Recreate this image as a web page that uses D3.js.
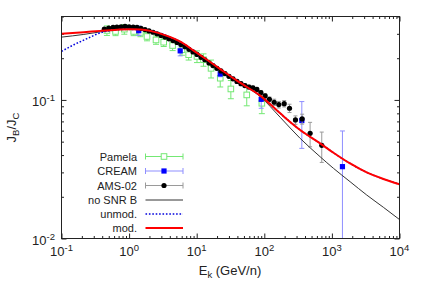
<!DOCTYPE html>
<html>
<head>
<meta charset="utf-8">
<script src="https://cdn.jsdelivr.net/npm/d3@7"></script>
<style>
  body { margin: 0; background: #fff; }
  text { font-family: "Liberation Sans", Arial, sans-serif; fill: #222; }
</style>
</head>
<body>
<svg id="chart" width="425" height="298"></svg>
<script>
// ---- data ----
var pamelaE   = [0.47, 0.63, 0.85, 1.17, 1.47, 1.84, 2.5, 3.25, 4.4, 6.05, 7.6, 10.1, 12.6, 16.3, 22.3, 32, 55, 92];
var pamelaBC  = [0.317, 0.312, 0.324, 0.312, 0.307, 0.287, 0.271, 0.261, 0.247, 0.230, 0.212, 0.206, 0.195, 0.169, 0.1435, 0.120, 0.1087, 0.0946];
var pamelaErr = [0.025, 0.021, 0.026, 0.021, 0.021, 0.020, 0.019, 0.018, 0.020, 0.020, 0.018, 0.020, 0.020, 0.025, 0.0195, 0.018, 0.018, 0.015];

var creamE  = [1.39, 5.7, 22.3, 90, 359, 1432];
var creamBC = [0.316, 0.226, 0.154, 0.101, 0.071, 0.033];
var creamLo = [0.292, 0.208, 0.147, 0.087, 0.0447, 0.005];
var creamHi = [0.342, 0.246, 0.161, 0.110, 0.0973, 0.0597];

var amsE = [0.43, 0.50, 0.58, 0.66, 0.76, 0.87, 1.00, 1.15, 1.31, 1.50, 1.72, 1.97, 2.26, 2.59, 2.97, 3.40, 3.89,
            4.46, 5.11, 5.86, 6.71, 7.69, 8.81, 10.1, 11.6, 13.2, 15.2, 17.4, 19.9, 22.8, 26.2, 30.0, 34.4, 39.4,
            45.1, 51.6, 59.2, 67.8, 77.6, 89, 103, 119, 140, 164, 197, 236, 289, 363, 476, 708];
var amsBC = [0.324, 0.330, 0.334, 0.335, 0.337, 0.339, 0.337, 0.335, 0.334, 0.328, 0.322, 0.315, 0.308, 0.300, 0.292,
             0.284, 0.276, 0.268, 0.260, 0.251, 0.242, 0.232, 0.222, 0.213, 0.203, 0.195, 0.185, 0.177, 0.169, 0.162,
             0.155, 0.148, 0.142, 0.136, 0.131, 0.127, 0.124, 0.122, 0.119, 0.113, 0.107, 0.101, 0.0962, 0.0925,
             0.094, 0.0871, 0.0717, 0.0729, 0.0574, 0.0470];
var amsErr = [0.006, 0.006, 0.006, 0.006, 0.006, 0.006, 0.006, 0.006, 0.006, 0.005, 0.005, 0.005, 0.005, 0.005, 0.005,
              0.004, 0.004, 0.004, 0.004, 0.004, 0.004, 0.004, 0.004, 0.004, 0.004, 0.004, 0.004, 0.004, 0.004, 0.004,
              0.004, 0.004, 0.004, 0.004, 0.004, 0.004, 0.004, 0.004, 0.004, 0.004, 0.004, 0.004, 0.005, 0.005,
              0.005, 0.006, 0.005, 0.006, 0.0115, 0.0116];

var modE  = [0.1, 0.214, 0.377, 0.664, 1.045, 1.47, 2.06, 3.64, 5.73, 9.01, 14.2, 22.3, 35.1, 55.2, 86.9, 172, 339, 670, 1054, 1858, 3273, 5768, 10000];
var modBC = [0.300, 0.308, 0.315, 0.321, 0.324, 0.322, 0.315, 0.290, 0.263, 0.227, 0.195, 0.167, 0.143, 0.124, 0.1075, 0.080, 0.0607, 0.0486, 0.0416, 0.0348, 0.0300, 0.0269, 0.0246];

var noSnrE  = [0.1, 0.214, 0.377, 0.664, 0.933, 1.47, 2.06, 3.64, 5.73, 9.01, 14.2, 22.3, 35.1, 55.2, 86.9, 172, 339, 670, 1054, 1858, 3273, 5768, 10000];
var noSnrBC = [0.284, 0.297, 0.310, 0.321, 0.324, 0.322, 0.315, 0.290, 0.263, 0.227, 0.195, 0.167, 0.143, 0.124, 0.1057, 0.0749, 0.0528, 0.0389, 0.0321, 0.0257, 0.0206, 0.0168, 0.0137];

var unmodE  = [0.1, 0.152, 0.239, 0.377, 0.593, 0.933, 1.47, 2.06, 3.64, 5.73, 9.01, 14.2, 22.3, 35.1, 55.2, 86.9, 172, 339, 670, 1054, 1858, 3273, 5768, 10000];
var unmodBC = [0.224, 0.250, 0.277, 0.305, 0.319, 0.323, 0.321, 0.315, 0.290, 0.263, 0.227, 0.195, 0.167, 0.143, 0.124, 0.1075, 0.080, 0.0607, 0.0486, 0.0416, 0.0348, 0.0300, 0.0269, 0.0246];

var xMajor = [0.1, 1, 10, 100, 1000, 10000];
var xExp   = ['-1', '0', '1', '2', '3', '4'];
var yMajor = [0.01, 0.1];
var yExp   = ['-2', '-1'];
var legendNames = ['Pamela', 'CREAM', 'AMS-02', 'no SNR B', 'unmod.', 'mod.'];

// ---- chart ----
var svg = d3.select('#chart');
var x = d3.scaleLog().domain([0.1, 1e4]).range([61.5, 399.5]);
var y = d3.scaleLog().domain([0.01, 0.4]).range([238.5, 16.5]);

var xMinor = [];
[0.1, 1, 10, 100, 1000].forEach(function(d) {
  for (var k = 2; k <= 9; k++) xMinor.push(d * k);
});
var yMinor = [];
[0.01, 0.1].forEach(function(d) {
  for (var k = 2; k <= 9; k++) if (d * k <= 0.4) yMinor.push(d * k);
});

svg.append('clipPath').attr('id', 'plotClip')
  .append('rect').attr('x', 61.5).attr('y', 16.5).attr('width', 338).attr('height', 222);

function ticks(axisFn, scale, values, size, tx, ty) {
  svg.append('g')
    .attr('transform', 'translate(' + tx + ',' + ty + ')')
    .call(axisFn(scale).tickValues(values).tickSize(-size).tickFormat(''))
    .call(function(g) { g.select('.domain').remove(); })
    .selectAll('line').attr('stroke', '#222');
}

ticks(d3.axisBottom, x, xMajor, 5, 0, 238.5);
ticks(d3.axisBottom, x, xMinor, 2.5, 0, 238.5);
ticks(d3.axisTop, x, xMajor, 5, 0, 16.5);
ticks(d3.axisTop, x, xMinor, 2.5, 0, 16.5);
ticks(d3.axisLeft, y, yMajor, 5, 61.5, 0);
ticks(d3.axisLeft, y, yMinor, 2.5, 61.5, 0);
ticks(d3.axisRight, y, yMajor, 5, 399.5, 0);
ticks(d3.axisRight, y, yMinor, 2.5, 399.5, 0);

// tick labels 10^n
var xl = svg.append('g').selectAll('text').data(xMajor).enter().append('text')
  .attr('x', function(d) { return x(d); })
  .attr('y', 256)
  .attr('text-anchor', 'middle')
  .attr('font-size', 13);
xl.append('tspan').text('10');
xl.append('tspan').attr('dy', -5).attr('font-size', 9.5).text(function(d, i) { return xExp[i]; });

var yl = svg.append('g').selectAll('text').data(yMajor).enter().append('text')
  .attr('x', 55)
  .attr('y', function(d) { return y(d) + 6.5; })
  .attr('text-anchor', 'end')
  .attr('font-size', 13);
yl.append('tspan').text('10');
yl.append('tspan').attr('dy', -5).attr('font-size', 9.5).text(function(d, i) { return yExp[i]; });

// axis titles
var xt = svg.append('text').attr('x', 230).attr('y', 275).attr('text-anchor', 'middle').attr('font-size', 13);
xt.append('tspan').text('E');
xt.append('tspan').attr('dy', 3).attr('font-size', 9.5).text('k');
xt.append('tspan').attr('dy', -3).text(' (GeV/n)');

var yt = svg.append('text').attr('transform', 'translate(16,127.5) rotate(-90)')
  .attr('text-anchor', 'middle').attr('font-size', 13);
yt.append('tspan').text('J');
yt.append('tspan').attr('dy', 3).attr('font-size', 9.5).text('B');
yt.append('tspan').attr('dy', -3).text('/J');
yt.append('tspan').attr('dy', 3).attr('font-size', 9.5).text('C');

// ---- data marks ----
var plot = svg.append('g').attr('clip-path', 'url(#plotClip)');

function errorBars(E, lo, hi, color, cap) {
  var g = plot.append('g').attr('stroke', color).attr('stroke-width', 1);
  E.forEach(function(e, i) {
    var px = x(e);
    g.append('line').attr('x1', px).attr('x2', px).attr('y1', y(lo[i])).attr('y2', y(hi[i]));
    g.append('line').attr('x1', px - cap).attr('x2', px + cap).attr('y1', y(lo[i])).attr('y2', y(lo[i]));
    g.append('line').attr('x1', px - cap).attr('x2', px + cap).attr('y1', y(hi[i])).attr('y2', y(hi[i]));
  });
}

var pamelaColor = '#74e874';
var creamBar = '#8f8fff';
var amsBar = '#9a9a9a';

// Pamela
errorBars(pamelaE,
  pamelaBC.map(function(v, i) { return v - pamelaErr[i]; }),
  pamelaBC.map(function(v, i) { return v + pamelaErr[i]; }),
  pamelaColor, 3);
plot.append('g').selectAll('rect').data(pamelaE).enter().append('rect')
  .attr('x', function(d) { return x(d) - 2.8; })
  .attr('y', function(d, i) { return y(pamelaBC[i]) - 2.8; })
  .attr('width', 5.6).attr('height', 5.6)
  .attr('fill', '#fff').attr('stroke', pamelaColor).attr('stroke-width', 1);

// CREAM
errorBars(creamE, creamLo, creamHi, creamBar, 2.5);
plot.append('g').selectAll('rect').data(creamE).enter().append('rect')
  .attr('x', function(d) { return x(d) - 2.6; })
  .attr('y', function(d, i) { return y(creamBC[i]) - 2.6; })
  .attr('width', 5.2).attr('height', 5.2)
  .attr('fill', '#0000ff');

// AMS-02
errorBars(amsE,
  amsBC.map(function(v, i) { return v - amsErr[i]; }),
  amsBC.map(function(v, i) { return v + amsErr[i]; }),
  amsBar, 2);
plot.append('g').selectAll('circle').data(amsE).enter().append('circle')
  .attr('cx', function(d) { return x(d); })
  .attr('cy', function(d, i) { return y(amsBC[i]); })
  .attr('r', 2.6)
  .attr('fill', '#000');

// model curves
function curve(E, V, color, width, dash) {
  var line = d3.line()
    .x(function(d) { return x(d[0]); })
    .y(function(d) { return y(d[1]); })
    .curve(d3.curveMonotoneX);
  plot.append('path')
    .datum(d3.zip(E, V))
    .attr('d', line)
    .attr('fill', 'none')
    .attr('stroke', color)
    .attr('stroke-width', width)
    .attr('stroke-dasharray', dash || null);
}

curve(noSnrE, noSnrBC, '#333', 1);
curve(unmodE, unmodBC, '#0000dd', 1.5, '1.6,1.8');
curve(modE, modBC, '#ff0000', 2);

// frame
svg.append('rect')
  .attr('x', 61.5).attr('y', 16.5).attr('width', 338).attr('height', 222)
  .attr('fill', 'none').attr('stroke', '#222').attr('stroke-width', 1);

// ---- legend ----
var legY = [156.5, 171, 185.5, 200, 214, 228];
var lx0 = 145.5, lx1 = 183, lmid = 164;
var leg = svg.append('g');
legendNames.forEach(function(name, i) {
  var ly = legY[i];
  leg.append('text').attr('x', 137).attr('y', ly + 4).attr('text-anchor', 'end')
    .attr('font-size', 11).text(name);
});

function legendBar(ly, color) {
  leg.append('line').attr('x1', lx0).attr('x2', lx1).attr('y1', ly).attr('y2', ly).attr('stroke', color);
  leg.append('line').attr('x1', lx0).attr('x2', lx0).attr('y1', ly - 3).attr('y2', ly + 3).attr('stroke', color);
  leg.append('line').attr('x1', lx1).attr('x2', lx1).attr('y1', ly - 3).attr('y2', ly + 3).attr('stroke', color);
}

legendBar(legY[0], pamelaColor);
leg.append('rect').attr('x', lmid - 2.8).attr('y', legY[0] - 2.8).attr('width', 5.6).attr('height', 5.6)
  .attr('fill', '#fff').attr('stroke', pamelaColor);
legendBar(legY[1], creamBar);
leg.append('rect').attr('x', lmid - 2.6).attr('y', legY[1] - 2.6).attr('width', 5.2).attr('height', 5.2)
  .attr('fill', '#0000ff');
legendBar(legY[2], amsBar);
leg.append('circle').attr('cx', lmid).attr('cy', legY[2]).attr('r', 2.6).attr('fill', '#000');

leg.append('line').attr('x1', lx0).attr('x2', lx1).attr('y1', legY[3]).attr('y2', legY[3])
  .attr('stroke', '#333');
leg.append('line').attr('x1', lx0).attr('x2', lx1).attr('y1', legY[4]).attr('y2', legY[4])
  .attr('stroke', '#0000dd').attr('stroke-width', 1.5).attr('stroke-dasharray', '1.6,1.8');
leg.append('line').attr('x1', lx0).attr('x2', lx1).attr('y1', legY[5]).attr('y2', legY[5])
  .attr('stroke', '#ff0000').attr('stroke-width', 2);
</script>
</body>
</html>
